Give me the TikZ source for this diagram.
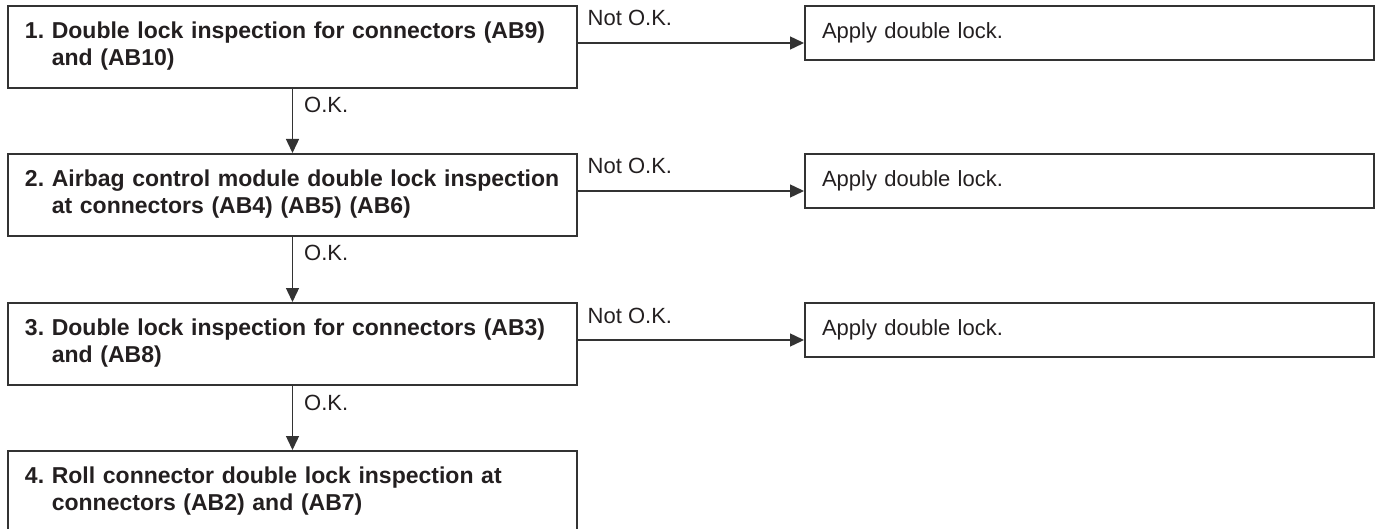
\documentclass[tikz,border=0pt]{standalone}
\usepackage{fontspec}
\setmainfont{Liberation Sans}
\usetikzlibrary{arrows.meta}

\definecolor{linegray}{HTML}{333333}
\definecolor{inkblack}{HTML}{231F20}

\newcommand{\stepline}[3]{\begin{tabular}{@{}l@{\ }l@{}}#1 & #2\\ & #3\end{tabular}}

\tikzset{
  chkbox/.style={draw=linegray, line width=1pt, anchor=north west, text=inkblack,
    text width=267.5pt, inner xsep=8.5pt, minimum height=41pt, align=left,
    font=\bfseries\fontsize{11.5}{13.5}\selectfont},
  fixbox/.style={chkbox, minimum height=27pt, font=\fontsize{11}{13.5}\selectfont},
  flow/.style={draw=linegray, line width=0.7pt, -{Triangle[length=7pt,width=6.5pt]}},
  lbl/.style={anchor=base west, inner sep=0pt, text=inkblack, font=\fontsize{11}{13.5}\selectfont},
  notok/.style={lbl, xshift=4.5pt, yshift=8.5pt},
  okay/.style={lbl, xshift=5.5pt, yshift=-12pt}
}

\begin{document}
\begin{tikzpicture}[x=0.5pt, y=-0.5pt]
  \useasboundingbox (0,0) rectangle (1375,529);

  \node[chkbox] (chk1) at (7,5) {\stepline{1.}{Double lock inspection for connectors (AB9)}{and (AB10)}};
  \node[chkbox] (chk2) at (7,153) {\stepline{2.}{Airbag control module double lock inspection}{at connectors (AB4) (AB5) (AB6)}};
  \node[chkbox] (chk3) at (7,302) {\stepline{3.}{Double lock inspection for connectors (AB3)}{and (AB8)}};
  \node[chkbox] (chk4) at (7,450) {\stepline{4.}{Roll connector double lock inspection at}{connectors (AB2) and (AB7)}};

  \node[fixbox] (fix1) at (804,5) {Apply double lock.};
  \node[fixbox] (fix2) at (804,153) {Apply double lock.};
  \node[fixbox] (fix3) at (804,302) {Apply double lock.};

  \draw[flow] (chk1.south) -- node[pos=0, okay] {O.K.} (chk2.north);
  \draw[flow] (chk2.south) -- node[pos=0, okay] {O.K.} (chk3.north);
  \draw[flow] (chk3.south) -- node[pos=0, okay] {O.K.} (chk4.north);

  \draw[flow] ([yshift=2pt]chk1.east) -- node[pos=0, notok] {Not O.K.} ([yshift=2pt]chk1.east -| fix1.west);
  \draw[flow] ([yshift=2pt]chk2.east) -- node[pos=0, notok] {Not O.K.} ([yshift=2pt]chk2.east -| fix2.west);
  \draw[flow] ([yshift=2pt]chk3.east) -- node[pos=0, notok] {Not O.K.} ([yshift=2pt]chk3.east -| fix3.west);
\end{tikzpicture}
\end{document}
